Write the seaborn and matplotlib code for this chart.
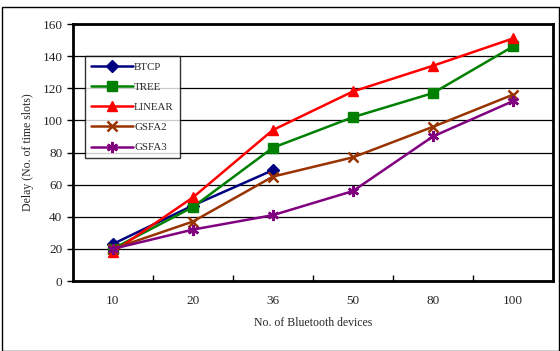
import matplotlib
matplotlib.use("Agg")
import matplotlib.pyplot as plt
import seaborn as sns
import pandas as pd
import numpy as np
from matplotlib.patches import Rectangle
from matplotlib.ticker import FixedLocator

categories = ["10", "20", "36", "50", "80", "100"]
btcp = [23, 47, 69, None, None, None]
tree = [20, 46, 83, 102, 117, 146]
linear = [18, 52, 94, 118, 134, 151]
gsfa2 = [20, 37, 65, 77, 96, 116]
gsfa3 = [20, 32, 41, 56, 90, 112]

series = {"BTCP": btcp, "TREE": tree, "LINEAR": linear, "GSFA2": gsfa2, "GSFA3": gsfa3}
colors = {"BTCP": "#000080", "TREE": "#008000", "LINEAR": "#FF0000", "GSFA2": "#993300", "GSFA3": "#800080"}
markers = {"BTCP": "D", "TREE": "s", "LINEAR": "^", "GSFA2": "x", "GSFA3": (6, 2, 0)}
msizes = {"BTCP": 6, "TREE": 7, "LINEAR": 7, "GSFA2": 7, "GSFA3": 8}

rows = []
for name, vals in series.items():
    for c, v in zip(categories, vals):
        if v is not None:
            rows.append({"Devices": c, "Delay": v, "Series": name})
df = pd.DataFrame(rows)

sns.set_style("white")
plt.rcParams["font.family"] = ["Liberation Serif", "DejaVu Serif"]

fig = plt.figure(figsize=(5.6, 3.51), dpi=100)
ax = fig.add_axes([0.130, 0.1994, 0.8575, 0.7322])

pos = {c: i for i, c in enumerate(categories)}
df["x"] = df["Devices"].map(pos)

for name in series:
    sub = df[df["Series"] == name]
    sns.lineplot(data=sub, x="x", y="Delay", ax=ax, color=colors[name],
                 marker=markers[name], markersize=msizes[name],
                 markeredgecolor=colors[name], markeredgewidth=1.8 if name in ("GSFA2", "GSFA3") else 1,
                 linewidth=1.8, label=name, sort=False)

ax.set_xlim(-0.5, 5.5)
ax.set_ylim(0, 160)
ax.set_yticks(np.arange(0, 161, 20))
ax.set_xticks(range(len(categories)))
ax.set_xticklabels(categories)
ax.xaxis.set_minor_locator(FixedLocator([0.5, 1.5, 2.5, 3.5, 4.5]))
ax.tick_params(axis="x", which="major", length=0, pad=10, labelsize=9.5)
ax.tick_params(axis="x", which="minor", direction="in", length=4, width=1, bottom=True, color="black")
ax.tick_params(axis="y", which="major", direction="out", length=4, width=1, left=True, labelsize=9.5, color="black")
ax.grid(axis="y", color="black", linewidth=0.9)
ax.set_axisbelow(True)
for s in ax.spines.values():
    s.set_color("black")
    s.set_linewidth(2)
ax.set_xlabel("No. of Bluetooth devices", fontsize=8.5, labelpad=7)
ax.set_ylabel("Delay (No. of time slots)", fontsize=8.5, labelpad=6)

leg = ax.legend(loc="upper left", bbox_to_anchor=(0.025, 0.875), fontsize=7.8,
                handlelength=3.9, labelspacing=0.98, frameon=True, fancybox=False,
                borderpad=0.55, handletextpad=0.1, borderaxespad=0)
leg.get_frame().set_edgecolor("black")
leg.get_frame().set_linewidth(1)

fig.patches.append(Rectangle((1.5 / 560, 0.5 / 351), 557.5 / 560, 343.5 / 351, transform=fig.transFigure,
                             fill=False, edgecolor="black", linewidth=1))

fig.savefig("out.png", dpi=100)
